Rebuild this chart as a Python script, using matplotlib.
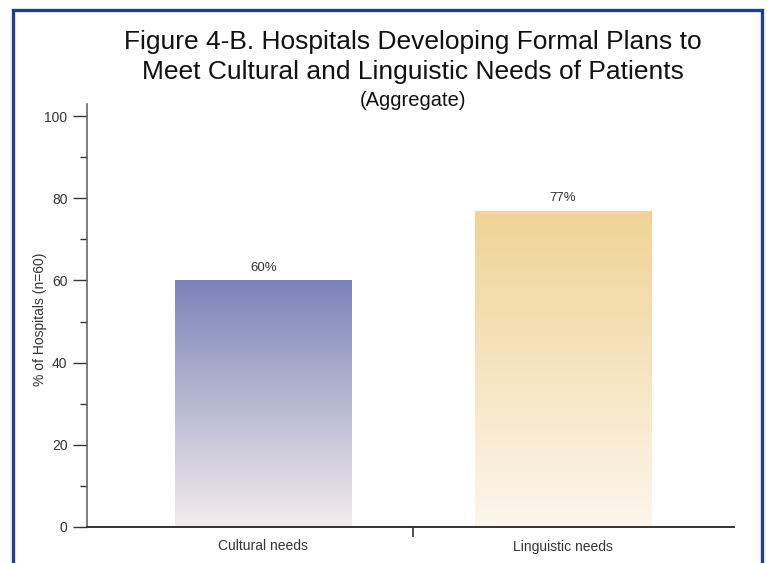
#!/usr/bin/env python3
"""Figure 4-B: hospitals developing formal plans (aggregate)."""

import matplotlib
matplotlib.use("Agg")
import matplotlib.pyplot as plt
from matplotlib.colors import LinearSegmentedColormap
from matplotlib.patches import Rectangle
import numpy as np


CATEGORIES = ["Cultural needs", "Linguistic needs"]
VALUES = [60, 77]
VALUE_LABELS = ["60%", "77%"]
Y_TICKS = [0, 20, 40, 60, 80, 100]

INK = "#333333"
BORDER = "#1f3f94"
GRADIENTS = [
    ("#f4ecec", "#7b84b9"),  # bottom -> top, cultural
    ("#fcf6ec", "#f0d395"),  # bottom -> top, linguistic
]

plt.rcParams.update(
    {
        "font.family": ["Liberation Sans", "DejaVu Sans"],
        "text.color": INK,
        "axes.labelcolor": INK,
        "xtick.color": INK,
        "ytick.color": INK,
    }
)

fig = plt.figure(figsize=(7.67, 5.63), dpi=100)

# outer blue frame (open at the bottom, cut by the page edge)
W, H = 767, 563
fig.add_artist(
    Rectangle(
        (13 / W, -0.05),
        (762 - 13) / W,
        1.05 - 10 / H,
        transform=fig.transFigure,
        fill=False,
        edgecolor=BORDER,
        linewidth=2.4,
    )
)

fig.text(413 / W, 1 - 42 / H, "Figure 4-B. Hospitals Developing Formal Plans to",
         ha="center", va="center", fontsize=19, color="#111111")
fig.text(413 / W, 1 - 72 / H, "Meet Cultural and Linguistic Needs of Patients",
         ha="center", va="center", fontsize=19, color="#111111")
fig.text(413 / W, 1 - 100 / H, "(Aggregate)",
         ha="center", va="center", fontsize=14.5, color="#111111")

# axes: left spine at x=87, x-axis at y=527, 100 at y=116
ax = fig.add_axes([87 / W, 1 - 527 / H, (734 - 87) / W, (527 - 104) / H])
ymax = 100 * (527 - 104) / (527 - 116)
ax.set_ylim(0, ymax)
ax.set_xlim(-0.588, 1.57)

x = np.arange(len(CATEGORIES))
bars = ax.bar(x, VALUES, width=0.59, color="none", edgecolor="none")

for bar, (c0, c1) in zip(bars, GRADIENTS):
    cmap = LinearSegmentedColormap.from_list("g", [c0, c1])
    x0, w, h = bar.get_x(), bar.get_width(), bar.get_height()
    grad = np.linspace(0, 1, 256).reshape(-1, 1)
    im = ax.imshow(grad, cmap=cmap, origin="lower", aspect="auto",
                   extent=(x0, x0 + w, 0, h), zorder=2)
    im.set_clip_path(bar)

for xi, v, lab in zip(x, VALUES, VALUE_LABELS):
    ax.text(xi, v + 1.6, lab, ha="center", va="bottom", fontsize=9.5)

ax.set_yticks(Y_TICKS)
ax.set_yticks(np.arange(10, 100, 20), minor=True)
ax.tick_params(axis="y", which="major", length=10, width=1.0, labelsize=10, pad=4)
ax.tick_params(axis="y", which="minor", length=5, width=1.0)
ax.set_xticks(x)
ax.set_xticklabels(CATEGORIES)
ax.set_xticks([0.5], minor=True)
ax.tick_params(axis="x", which="major", length=0, labelsize=10, pad=9)
ax.tick_params(axis="x", which="minor", length=7, width=1.2, direction="out")
ax.set_ylabel("% of Hospitals (n=60)", fontsize=10)
ax.yaxis.set_label_coords((47 - 87) / 647, 0.49)

ax.spines["top"].set_visible(False)
ax.spines["right"].set_visible(False)
ax.spines["left"].set_color("#666666")
ax.spines["left"].set_linewidth(1.2)
ax.spines["bottom"].set_color("#333333")
ax.spines["bottom"].set_linewidth(1.4)

fig.savefig("out.png", dpi=100)
